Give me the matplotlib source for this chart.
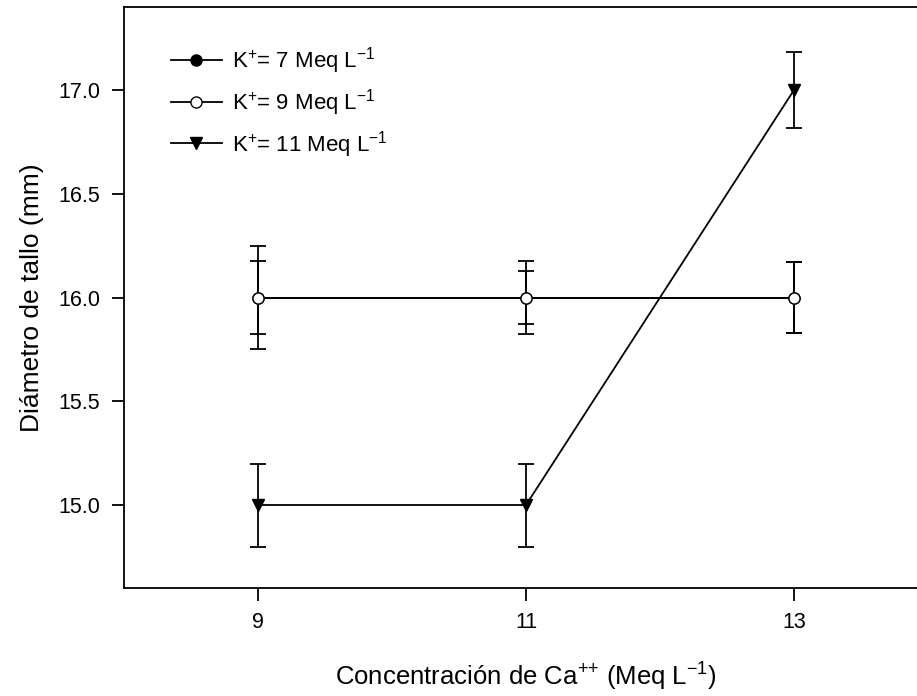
import matplotlib
matplotlib.use('Agg')
import matplotlib.pyplot as plt

plt.rcParams['font.family'] = ['Liberation Sans Narrow', 'Liberation Sans', 'DejaVu Sans']
plt.rcParams['mathtext.fontset'] = 'custom'
plt.rcParams['mathtext.rm'] = 'Liberation Sans'
plt.rcParams['mathtext.default'] = 'regular'

# calcium concentration (x) and stem diameter per potassium level
ca = [9, 11, 13]
k7_mean = [16.0, 16.0, 16.0]
k7_err = [0.25, 0.13, 0.17]
k9_mean = [16.0, 16.0, 16.0]
k9_err = [0.175, 0.175, 0.17]
k11_mean = [15.0, 15.0, 17.0]
k11_err = [0.2, 0.2, 0.185]

labels = ['K$^{+}$= 7 Meq L$^{-1}$', 'K$^{+}$= 9 Meq L$^{-1}$', 'K$^{+}$= 11 Meq L$^{-1}$']

fig = plt.figure(figsize=(9.17, 6.96), dpi=100)
ax = fig.add_axes([124/917, 108/696, 804/917, 581/696])

common = dict(color='black', lw=1.3, elinewidth=1.3, capsize=6, capthick=1.3, ms=8)
ax.errorbar(ca, k7_mean, yerr=k7_err, marker='o', mfc='black', mec='black', label=labels[0], **common)
ax.errorbar(ca, k9_mean, yerr=k9_err, marker='o', mfc='white', mec='black', label=labels[1], **common)
ax.errorbar(ca, k11_mean, yerr=k11_err, marker='v', mfc='black', mec='black', label=labels[2], **common)

ax.set_xlim(8, 14)
ax.set_ylim(14.6, 17.4)
ax.set_xticks([9, 11, 13])
ax.set_yticks([15.0, 15.5, 16.0, 16.5, 17.0])
ax.set_yticklabels(['15.0', '15.5', '16.0', '16.5', '17.0'])
ax.tick_params(direction='out', length=9, width=1.3, labelsize=15.5, pad=8)
for s in ax.spines.values():
    s.set_linewidth(1.3)

ax.set_xlabel('Concentración de Ca$^{{+}{+}}$ (Meq L$^{-1}$)', fontsize=18.5, labelpad=20)
ax.set_ylabel('Diámetro de tallo (mm)', fontsize=19, labelpad=10)

handles, labs = ax.get_legend_handles_labels()
handles = [h[0] for h in handles]
ax.legend(handles, labs, loc='upper left', bbox_to_anchor=(0.033, 0.968), frameon=False,
          fontsize=16, handlelength=2.3, handletextpad=0.45, labelspacing=0.48)

fig.savefig('out.png', dpi=100)
